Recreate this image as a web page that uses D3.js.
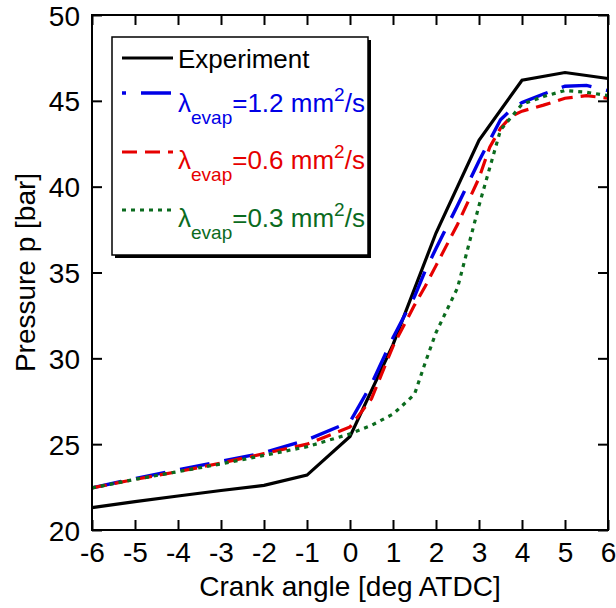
<!DOCTYPE html>
<html>
<head>
<meta charset="utf-8">
<script src="https://cdn.jsdelivr.net/npm/d3@7"></script>
<style>
  html, body { margin: 0; padding: 0; background: #fff; }
  svg text { font-family: "Liberation Sans", Arial, Helvetica, sans-serif; }
</style>
</head>
<body>
<div id="chart"></div>
<script>
// crank angle for measured curve (integer degrees) and simulations
const expAngles = [-6, -5, -4, -3, -2, -1, 0, 1, 2, 3, 4, 5, 6];
const expPressure = [21.3, 21.65, 21.98, 22.3, 22.6, 23.2, 25.45, 30.8, 37.3, 42.7, 46.2, 46.65, 46.3];

const simAngles = [-6, -5, -4, -3, -2, -1, 0, 0.5, 1, 1.5, 1.75, 2, 2.5, 3, 3.25, 3.5, 3.75, 4, 4.5, 5, 5.5, 6];
const lambda12 = [22.45, 23.0, 23.5, 24.0, 24.5, 25.25, 26.3, 28.5, 31.2, 33.6, 35.1, 36.4, 38.9, 41.5, 42.7, 43.9, 44.5, 44.9, 45.4, 45.85, 45.9, 45.6];
const lambda06 = [22.45, 22.95, 23.4, 23.9, 24.45, 25.0, 26.0, 27.65, 30.7, 33.1, 34.2, 35.4, 37.8, 40.5, 42.3, 43.4, 44.1, 44.4, 44.75, 45.15, 45.3, 45.15];
const lambda03 = [22.45, 22.95, 23.4, 23.85, 24.35, 24.85, 25.6, 26.1, 26.75, 27.9, 29.75, 31.5, 34.1, 38.9, 41.1, 43.3, 44.05, 44.8, 45.25, 45.6, 45.5, 45.3];

const xTicks = [-6, -5, -4, -3, -2, -1, 0, 1, 2, 3, 4, 5, 6];
const yTicks = [20, 25, 30, 35, 40, 45, 50];
const legendLabels = ["Experiment", "1.2", "0.6", "0.3"];

const W = 616, H = 608;
const margin = { top: 15, right: 8, bottom: 78, left: 92 };
const width = W - margin.left - margin.right,
      height = H - margin.top - margin.bottom;

const svg = d3.select("#chart").append("svg")
    .attr("width", W)
    .attr("height", H);

const chart = svg.append("g")
    .attr("transform", `translate(${margin.left},${margin.top})`);

const x = d3.scaleLinear().domain([-6, 6]).range([0, width]);
const y = d3.scaleLinear().domain([20, 50]).range([height, 0]);

// series styles
const series = [
    { ang: expAngles, val: expPressure, color: "#000", dash: null, w: 3.2 },
    { ang: simAngles, val: lambda12, color: "#0000e6", dash: "30,15", w: 3.4 },
    { ang: simAngles, val: lambda06, color: "#e60000", dash: "15,8", w: 3.2 },
    { ang: simAngles, val: lambda03, color: "#0b6b1e", dash: "4,5", w: 3.2 }
];

const line = d3.line()
    .x(d => x(d[0]))
    .y(d => y(d[1]));

series.forEach(s => {
    chart.append("path")
        .datum(s.ang.map((a, i) => [a, s.val[i]]))
        .attr("d", line)
        .attr("fill", "none")
        .attr("stroke", s.color)
        .attr("stroke-width", s.w)
        .attr("stroke-dasharray", s.dash);
});

// axes with inward ticks, plain hyphen for negatives
const bottomAxis = chart.append("g")
    .attr("transform", `translate(0,${height})`)
    .call(d3.axisBottom(x).tickValues(xTicks).tickFormat(d => String(d))
        .tickSizeInner(-10).tickSizeOuter(0).tickPadding(12));
bottomAxis.selectAll("text").style("font-size", "28px").attr("fill", "#000");

const leftAxis = chart.append("g")
    .call(d3.axisLeft(y).tickValues(yTicks).tickFormat(d => String(d))
        .tickSizeInner(-10).tickSizeOuter(0).tickPadding(12));
leftAxis.selectAll("text").style("font-size", "28px").attr("dy", "0.36em").attr("fill", "#000");

chart.append("g")
    .call(d3.axisTop(x).tickValues(xTicks).tickSizeInner(-10).tickSizeOuter(0).tickFormat(""));
chart.append("g")
    .attr("transform", `translate(${width},0)`)
    .call(d3.axisRight(y).tickValues(yTicks).tickSizeInner(-10).tickSizeOuter(0).tickFormat(""));

chart.selectAll(".domain").remove();
chart.selectAll(".tick line").attr("stroke", "#000").attr("stroke-width", 2);

chart.append("rect")
    .attr("width", width)
    .attr("height", height)
    .attr("fill", "none")
    .attr("stroke", "#000")
    .attr("stroke-width", 2);

// axis titles
svg.append("text")
    .attr("x", margin.left + width / 2)
    .attr("y", 596)
    .attr("text-anchor", "middle")
    .style("font-size", "28px")
    .text("Crank angle [deg ATDC]");

svg.append("text")
    .attr("transform", `translate(35,${margin.top + height / 2}) rotate(-90)`)
    .attr("text-anchor", "middle")
    .style("font-size", "28px")
    .text("Pressure p [bar]");

// legend
const lg = svg.append("g");
lg.append("rect")
    .attr("x", 115).attr("y", 40)
    .attr("width", 256).attr("height", 218)
    .attr("fill", "#000");
lg.append("rect")
    .attr("x", 112).attr("y", 37)
    .attr("width", 256).attr("height", 218)
    .attr("fill", "#fff")
    .attr("stroke", "#000")
    .attr("stroke-width", 1.5);

const rowLineY = [58, 93, 152, 210];
const rowTextY = [68, 112, 169, 227];
const dashOffsets = [0, 26, 0, 0];

series.forEach((s, i) => {
    lg.append("line")
        .attr("x1", 122).attr("x2", 173)
        .attr("y1", rowLineY[i]).attr("y2", rowLineY[i])
        .attr("stroke", s.color)
        .attr("stroke-width", s.w)
        .attr("stroke-dasharray", s.dash)
        .attr("stroke-dashoffset", dashOffsets[i]);

    const t = lg.append("text")
        .attr("x", 178)
        .attr("y", rowTextY[i])
        .attr("fill", s.color)
        .style("font-size", "26px");
    if (i === 0) {
        t.text(legendLabels[0]);
    } else {
        t.append("tspan").text("λ");
        t.append("tspan").attr("dy", 12).style("font-size", "19px").text("evap");
        t.append("tspan").attr("dy", -12).text("=" + legendLabels[i] + " mm");
        t.append("tspan").attr("dy", -11).style("font-size", "19px").text("2");
        t.append("tspan").attr("dy", 11).text("/s");
    }
});
</script>
</body>
</html>
